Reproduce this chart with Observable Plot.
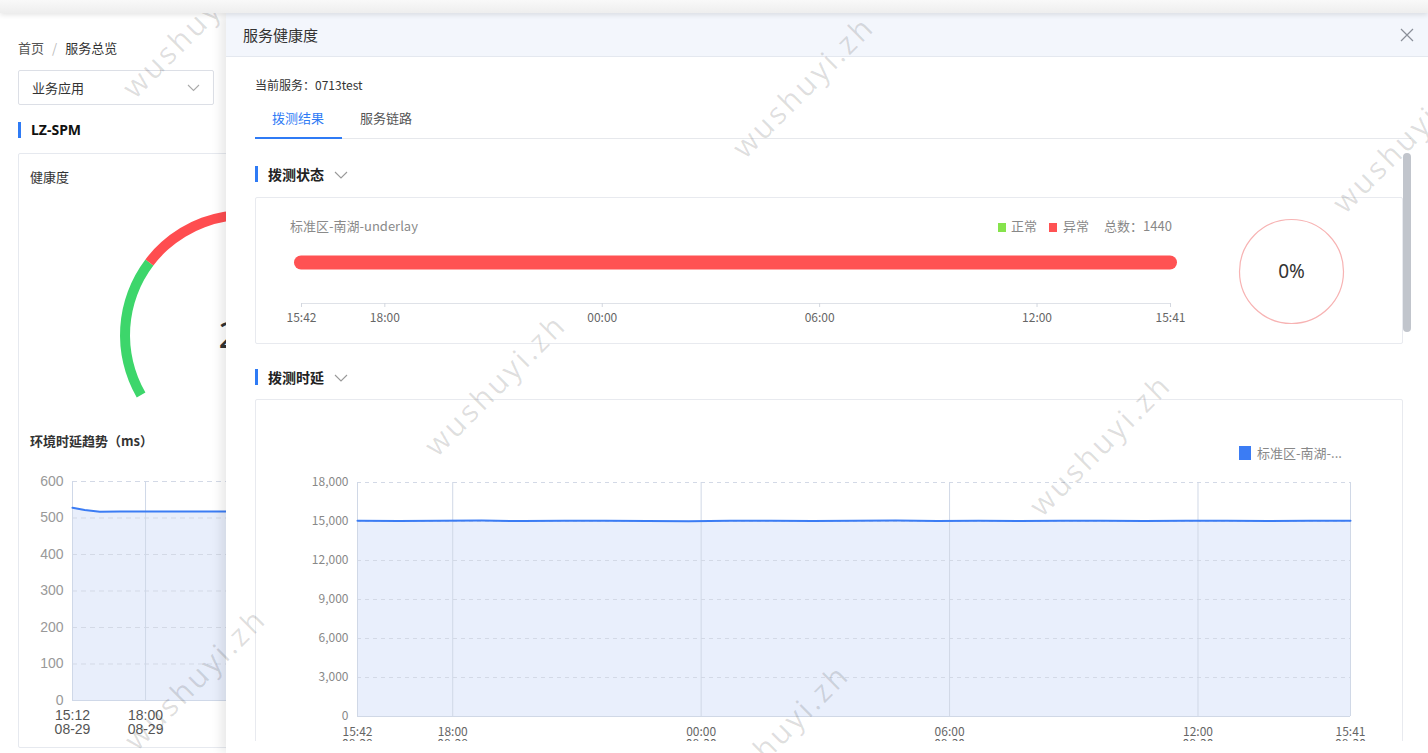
<!DOCTYPE html>
<html><head><meta charset="utf-8">
<script src="https://cdn.jsdelivr.net/npm/d3@7"></script>
<script src="https://cdn.jsdelivr.net/npm/@observablehq/plot@0.6"></script>
<style>
html,body{margin:0;padding:0;background:#fff;}
body{width:1428px;height:753px;overflow:hidden;font-family:"Noto Sans CJK SC","Noto Sans",sans-serif;}
#root{position:relative;width:1428px;height:753px;overflow:hidden;background:#fff;}
.a{position:absolute;white-space:nowrap;}
.lbl{line-height:20px;height:20px;}
svg{overflow:visible;}
</style>
</head><body><div id="root"></div>
<script>
// ---------------- DATA ----------------
const P = d3.timeParse("%Y-%m-%d %H:%M");

// 拨测时延 (ms) — hourly readings
const latencyTimes = ["2023-08-29 15:42","2023-08-29 16:42","2023-08-29 17:42","2023-08-29 18:42","2023-08-29 19:42","2023-08-29 20:42","2023-08-29 21:42","2023-08-29 22:42","2023-08-29 23:42","2023-08-30 00:42","2023-08-30 01:42","2023-08-30 02:42","2023-08-30 03:42","2023-08-30 04:42","2023-08-30 05:42","2023-08-30 06:42","2023-08-30 07:42","2023-08-30 08:42","2023-08-30 09:42","2023-08-30 10:42","2023-08-30 11:42","2023-08-30 12:42","2023-08-30 13:42","2023-08-30 14:42","2023-08-30 15:41"];
const latencyValues = [15060,15040,15050,15070,15030,15050,15060,15040,15020,15050,15060,15040,15050,15070,15040,15050,15030,15060,15050,15040,15060,15050,15040,15060,15050];
const latencyYTicks = [0,3000,6000,9000,12000,15000,18000];
const latencyXTicks = ["2023-08-29 15:42","2023-08-29 18:00","2023-08-30 00:00","2023-08-30 06:00","2023-08-30 12:00","2023-08-30 15:41"];
const latencySeries = "标准区-南湖-...";

// 环境时延趋势 (ms)
const envTimes = ["2023-08-29 15:12","2023-08-29 15:40","2023-08-29 16:15","2023-08-29 17:00","2023-08-29 18:00","2023-08-29 21:00","2023-08-30 00:00","2023-08-30 06:00","2023-08-30 12:00","2023-08-30 15:12"];
const envValues = [528,522,517,518,518,518,519,518,518,518];
const envYTicks = [0,100,200,300,400,500,600];
const envXTicks = ["2023-08-29 15:12","2023-08-29 18:00","2023-08-30 00:00","2023-08-30 06:00","2023-08-30 12:00","2023-08-30 15:12"];

// 拨测状态
const statusNames = ["标准区-南湖-underlay"];
const statusStarts = ["2023-08-29 15:42"];
const statusEnds = ["2023-08-30 15:41"];
const statusStates = ["异常"];
const statusLegend = ["正常","异常"];
const statusTicks = ["2023-08-29 15:42","2023-08-29 18:00","2023-08-30 00:00","2023-08-30 06:00","2023-08-30 12:00","2023-08-30 15:41"];
const probeTotal = 1440;
const probeNormal = 0;

// 健康度
const healthScore = 28;

// ---------------- STYLE ----------------
const BLUE = "#3b7cf4", RED = "#ff5253", GREEN = "#86e34c", GAUGE_GREEN = "#3dd66b", GAUGE_RED = "#ff4d50";
const root = document.getElementById("root");
function el(tag, css, html){const e=document.createElement(tag);e.className="a";Object.assign(e.style,css);if(html!=null)e.innerHTML=html;return e;}
function add(parent, tag, css, html){const e=el(tag,css,html);parent.appendChild(e);return e;}
function lbl(parent, text, x, yc, css){return add(parent,"div",Object.assign({left:x+"px",top:(yc-10)+"px",lineHeight:"20px",height:"20px"},css||{}),text);}
function chevron(parent,x,y,w,color){
  const s=document.createElementNS("http://www.w3.org/2000/svg","svg");
  s.setAttribute("width",w+2);s.setAttribute("height",w/2+2);
  s.style.position="absolute";s.style.left=x+"px";s.style.top=y+"px";
  s.innerHTML=`<polyline points="1,1 ${w/2+1},${w/2+1} ${w+1},1" fill="none" stroke="${color}" stroke-width="1.1"/>`;
  parent.appendChild(s);return s;
}
const fmtTime = d3.timeFormat("%H:%M"), fmtDay = d3.timeFormat("%m-%d");
const twoLine = d => fmtTime(d) + "\n" + fmtDay(d);

// ---------------- LEFT PAGE ----------------
const left = add(root,"div",{left:"0px",top:"0px",width:"1428px",height:"753px",zIndex:1});
lbl(left,'<span style="color:#555">首页</span><span style="color:#bbb;margin:0 8px">/</span><span style="color:#333">服务总览</span>',18,48,{fontSize:"13px"});
add(left,"div",{left:"18px",top:"70px",width:"194px",height:"33px",border:"1px solid #dcdfe6",borderRadius:"2px",boxSizing:"content-box"});
lbl(left,"业务应用",32,88,{fontSize:"13px",color:"#333"});
chevron(left,187,84,11,"#aaa");
add(left,"div",{left:"18px",top:"122px",width:"3px",height:"16px",background:"#2f7bf5"});
lbl(left,"LZ-SPM",31,130,{fontSize:"14px",fontWeight:"700",color:"#111",fontFamily:"'Noto Sans',sans-serif"});
add(left,"div",{left:"18px",top:"153px",width:"500px",height:"593px",border:"1px solid #e6e9ef",borderRadius:"2px"});
lbl(left,"健康度",30,177,{fontSize:"13px",color:"#333"});
lbl(left,"环境时延趋势（ms）",30,441,{fontSize:"13px",color:"#333",fontWeight:"700"});

// gauge (d3 arcs)
{
  const cx=245, cy=335;
  const ang = d3.scaleLinear([0,100],[-120*Math.PI/180, 120*Math.PI/180]);
  const arc = d3.arc().innerRadius(115).outerRadius(125);
  const svg = d3.select(left).append("svg").attr("class","a").attr("width",400).attr("height",320)
    .style("left","0px").style("top","150px");
  const g = svg.append("g").attr("transform",`translate(${cx},${cy-150})`);
  const bands = [{from:0,to:healthScore,color:GAUGE_GREEN},{from:healthScore,to:100,color:GAUGE_RED}];
  g.selectAll("path").data(bands).join("path")
    .attr("d",d=>arc({startAngle:ang(d.from),endAngle:ang(d.to)})).attr("fill",d=>d.color);
  g.append("text").attr("x",-6).attr("y",0).attr("dy","0.36em").attr("text-anchor","middle")
    .attr("font-size",36).attr("fill","#333").attr("font-family","'Noto Sans',sans-serif").text(healthScore);
}

// env latency chart
{
  const data = envTimes.map((t,i)=>({time:P(t),value:envValues[i]}));
  const xt = envXTicks.map(P);
  const chart = Plot.plot({
    width:740, height:280, marginLeft:72, marginRight:42, marginTop:11, marginBottom:50,
    style:{fontSize:"14px",fontFamily:"'Liberation Sans',Arial,sans-serif",background:"transparent",overflow:"visible"},
    x:{type:"time",domain:[xt[0],xt[xt.length-1]]},
    y:{domain:[0,600]},
    marks:[
      Plot.areaY(data,{x:"time",y:"value",fill:"#e8eefb"}),
      Plot.gridY({ticks:envYTicks.filter(d=>d>0),stroke:"#d3d9e6",strokeOpacity:1,strokeDasharray:"5,4"}),
      Plot.gridX({ticks:xt,stroke:"#cfd8e8",strokeOpacity:1}),
      Plot.ruleY([0],{stroke:"#cfd8e8"}),
      Plot.lineY(data,{x:"time",y:"value",stroke:BLUE,strokeWidth:2}),
      Plot.axisY({ticks:envYTicks,tickSize:0,tickPadding:9,color:"#999",label:null}),
      Plot.axisX({ticks:xt,tickSize:0,tickPadding:10,tickFormat:twoLine,color:"#555",label:null})
    ]
  });
  chart.classList.add("a"); chart.style.left="0px"; chart.style.top="470px";
  left.appendChild(chart);
}

// ---------------- DRAWER ----------------
add(root,"div",{left:"226px",top:"13px",width:"1202px",height:"740px",background:"#fff",boxShadow:"-5px 0 10px rgba(0,0,0,0.09)",zIndex:5});
const head = add(root,"div",{left:"226px",top:"13px",width:"1202px",height:"43px",background:"#f3f6fc",borderBottom:"1px solid #e4e8ef",zIndex:6});
lbl(head,"服务健康度",17,22,{fontSize:"15px",color:"#333"});
{
  const s=document.createElementNS("http://www.w3.org/2000/svg","svg");
  s.setAttribute("width",14);s.setAttribute("height",14);
  Object.assign(s.style,{position:"absolute",left:"1174px",top:"15px"});
  s.innerHTML='<path d="M1,1 L13,13 M13,1 L1,13" stroke="#8a8f99" stroke-width="1.2"/>';
  head.appendChild(s);
}
const body = add(root,"div",{left:"0px",top:"0px",width:"1428px",height:"753px",zIndex:7,clipPath:"inset(57px 0px 12px 226px)"});
lbl(body,"当前服务：0713test",255,85,{fontSize:"12px",color:"#333"});
lbl(body,"拨测结果",272,118,{fontSize:"13px",color:"#2f7bf5"});
lbl(body,"服务链路",360,118,{fontSize:"13px",color:"#555"});
add(body,"div",{left:"255px",top:"138px",width:"1156px",height:"1px",background:"#e6e8ec"});
add(body,"div",{left:"255px",top:"137px",width:"87px",height:"2px",background:"#2f7bf5"});
add(body,"div",{left:"1403px",top:"153px",width:"8px",height:"179px",background:"#c1c5cc",borderRadius:"4px"});

// section 拨测状态
add(body,"div",{left:"255px",top:"166px",width:"3px",height:"16px",background:"#2f7bf5"});
lbl(body,"拨测状态",268,174,{fontSize:"14px",color:"#222",fontWeight:"700"});
chevron(body,334,171,12,"#999");
add(body,"div",{left:"255px",top:"197px",width:"1146px",height:"145px",border:"1px solid #e8eaef",borderRadius:"2px"});
lbl(body,statusNames[0],290,226,{fontSize:"13px",color:"#8a8a8a"});
add(body,"div",{left:"998px",top:"223px",width:"8px",height:"9px",background:GREEN});
lbl(body,statusLegend[0],1011,226,{fontSize:"13px",color:"#888"});
add(body,"div",{left:"1049px",top:"223px",width:"8px",height:"9px",background:RED});
lbl(body,statusLegend[1],1063,226,{fontSize:"13px",color:"#888"});
lbl(body,"总数："+probeTotal,1104,226,{fontSize:"13px",color:"#888"});

{
  const segs = statusNames.map((n,i)=>({name:n,start:P(statusStarts[i]),end:P(statusEnds[i]),status:statusStates[i]}));
  const st = statusTicks.map(P);
  const chart = Plot.plot({
    width:900, height:110, marginLeft:11, marginRight:20, marginTop:0, marginBottom:29,
    style:{fontSize:"12px",fontFamily:"'Noto Sans CJK SC',sans-serif",background:"transparent",overflow:"visible",color:"#666"},
    x:{type:"time",domain:[st[0],st[st.length-1]]},
    y:{type:"point",domain:statusNames,range:[22,58],axis:null},
    color:{domain:statusLegend,range:[GREEN,RED]},
    marks:[
      Plot.frame({anchor:"bottom",stroke:"#dfe2e8"}),
      Plot.ruleY(segs,{y:"name",x1:"start",x2:"end",stroke:"status",strokeWidth:14,strokeLinecap:"round"}),
      Plot.axisX({ticks:st,tickSize:4,tickPadding:6,tickFormat:fmtTime,stroke:"#d3d7df",fill:"#666",label:null})
    ]
  });
  chart.classList.add("a"); chart.style.left="290px"; chart.style.top="222px";
  body.appendChild(chart);
}
{
  const ratio = probeNormal/probeTotal;
  const ring = Plot.plot({
    width:120,height:120,margin:0,
    style:{background:"transparent",overflow:"visible",fontFamily:"'Noto Sans',sans-serif"},
    marks:[
      Plot.dot([ratio],{frameAnchor:"middle",r:52,stroke:"#f7b3b3",strokeWidth:1.2,fill:"none"}),
      Plot.text([ratio],{frameAnchor:"middle",text:d=>d3.format(".0%")(d),fontSize:19,fill:"#333"})
    ]
  });
  ring.classList.add("a"); ring.style.left="1231px"; ring.style.top="211px";
  body.appendChild(ring);
}

// section 拨测时延
add(body,"div",{left:"255px",top:"369px",width:"3px",height:"16px",background:"#2f7bf5"});
lbl(body,"拨测时延",268,377,{fontSize:"14px",color:"#222",fontWeight:"700"});
chevron(body,334,374,12,"#999");
add(body,"div",{left:"255px",top:"399px",width:"1146px",height:"400px",border:"1px solid #e8eaef",borderRadius:"2px"});
add(body,"div",{left:"1239px",top:"446px",width:"12px",height:"14px",background:BLUE});
lbl(body,latencySeries,1257,453,{fontSize:"13px",color:"#888"});
{
  const data = latencyTimes.map((t,i)=>({time:P(t),value:latencyValues[i]}));
  const xt = latencyXTicks.map(P);
  const chart = Plot.plot({
    width:1090, height:296, marginLeft:57, marginRight:40, marginTop:22, marginBottom:40,
    style:{fontSize:"12px",fontFamily:"'Noto Sans CJK SC',sans-serif",background:"transparent",overflow:"visible"},
    x:{type:"time",domain:[xt[0],xt[xt.length-1]]},
    y:{domain:[0,18000]},
    marks:[
      Plot.areaY(data,{x:"time",y:"value",fill:"#e9effc"}),
      Plot.gridY({ticks:latencyYTicks.filter(d=>d>0),stroke:"#d3d9e6",strokeOpacity:1,strokeDasharray:"4,4"}),
      Plot.gridX({ticks:xt,stroke:"#d0d8e6",strokeOpacity:1}),
      Plot.ruleY([0],{stroke:"#d0d8e6"}),
      Plot.lineY(data,{x:"time",y:"value",stroke:BLUE,strokeWidth:2}),
      Plot.axisY({ticks:latencyYTicks,tickSize:0,tickPadding:9,tickFormat:d3.format(","),color:"#888",label:null}),
      Plot.axisX({ticks:xt,tickSize:0,tickPadding:11,tickFormat:twoLine,color:"#666",label:null})
    ]
  });
  chart.classList.add("a"); chart.style.left="300px"; chart.style.top="460px";
  body.appendChild(chart);
}

// ---------------- WATERMARKS ----------------
{
  const marks = [[135,100],[745,160],[1345,215],[437,458],[1042,518],[137,752],[720,808]];
  const svg = d3.select(root).append("svg").attr("class","a").attr("width",1428).attr("height",753)
    .style("left","0px").style("top","0px").style("z-index",9).style("pointer-events","none");
  svg.selectAll("text").data(marks).join("text")
    .attr("x",d=>d[0]).attr("y",d=>d[1]).attr("transform",d=>`rotate(-45 ${d[0]} ${d[1]})`)
    .attr("font-size",30).attr("letter-spacing",3).attr("font-family","'Open Sans',sans-serif")
    .attr("fill","rgba(0,0,0,0.13)").text("wushuyi.zh");
}
// top band
add(root,"div",{left:"0px",top:"0px",width:"1428px",height:"13px",background:"linear-gradient(#f9f9f9,#eeeeee)",boxShadow:"0 2px 5px rgba(0,0,0,0.10)",zIndex:10});
</script></body></html>
